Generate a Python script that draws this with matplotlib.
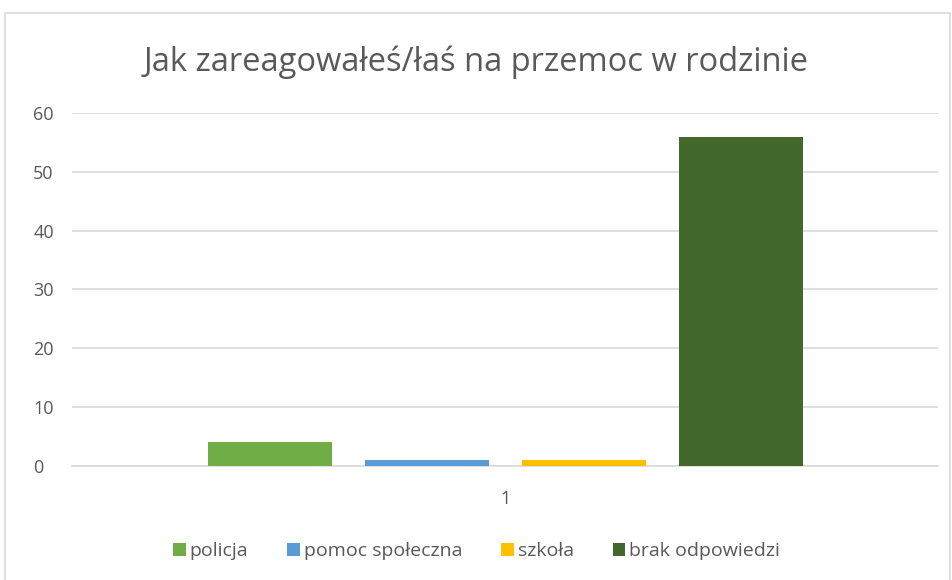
import numpy as np
import matplotlib
matplotlib.use('Agg')
import matplotlib.pyplot as plt
from matplotlib.patches import Rectangle

categories = ['1']
series = ['policja', 'pomoc społeczna', 'szkoła', 'brak odpowiedzi']
values = [4, 1, 1, 56]
colors = ['#70AD47', '#5B9BD5', '#FFC000', '#43682B']
yticks = [0, 10, 20, 30, 40, 50, 60]

text_color = '#595959'
grid_color = '#D9D9D9'

plt.rcParams['font.family'] = ['Open Sans', 'DejaVu Sans']

fig = plt.figure(figsize=(9.53, 5.80), dpi=100)
ax = fig.add_axes([0.0756, 0.1966, 0.9087, 0.6086])

# chart area border
fig.patches.append(Rectangle((5 / 953, -0.05), 945 / 953, 1.05 - 13 / 580,
                             transform=fig.transFigure, fill=False,
                             edgecolor=grid_color, linewidth=1.2))

width = 0.1432
step = 0.1813
x = np.arange(len(categories))
for i, (name, val, col) in enumerate(zip(series, values, colors)):
    offset = (i - (len(series) - 1) / 2) * step
    ax.bar(x + offset, [val], width=width, color=col, label=name, zorder=3)

ax.set_xlim(-0.5, 0.5)
ax.set_ylim(0, 60)
ax.set_yticks(yticks)
ax.set_xticks(x)
ax.set_xticklabels(categories)
ax.yaxis.grid(True, color=grid_color, linewidth=1.2, zorder=0)
for side in ['top', 'right', 'left']:
    ax.spines[side].set_visible(False)
ax.spines['bottom'].set_color(grid_color)
ax.spines['bottom'].set_linewidth(1.2)
ax.tick_params(axis='both', length=0, labelsize=13, colors=text_color)
ax.tick_params(axis='y', pad=28)
ax.tick_params(axis='x', pad=17)
for lbl in ax.get_yticklabels():
    lbl.set_horizontalalignment('left')

fig.text(0.5, 1 - 62 / 580, 'Jak zareagowałeś/łaś na przemoc w rodzinie',
         ha='center', va='center', fontsize=23.5, color=text_color)

leg = fig.legend(loc='center', bbox_to_anchor=(0.5, 1 - 551 / 580), ncol=4,
                 frameon=False, fontsize=14, handlelength=0.65, handleheight=0.65,
                 handletextpad=0.2, columnspacing=2.0)
for t in leg.get_texts():
    t.set_color(text_color)

fig.savefig('out.png', dpi=100)
